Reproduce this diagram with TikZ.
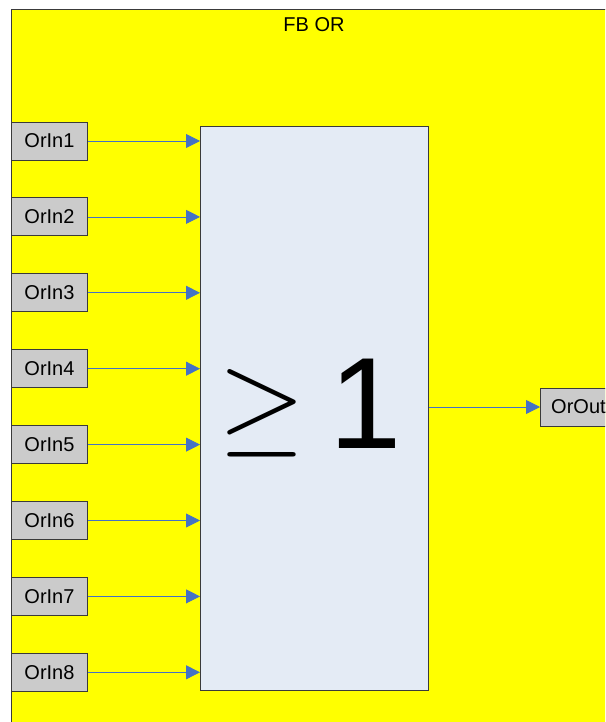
\documentclass[tikz,border=0pt]{standalone}
\usepackage{fontspec}
\setmainfont{Liberation Sans}
\usetikzlibrary{arrows.meta}
\definecolor{fbyellow}{HTML}{FFFF00}
\definecolor{blockfill}{HTML}{E4EBF5}
\definecolor{portfill}{HTML}{CBCBCB}
\definecolor{linkblue}{HTML}{4472C4}
\definecolor{edgegray}{HTML}{3A3A3A}
\tikzset{
  port/.style={draw=edgegray, line width=0.9pt, fill=portfill, minimum width=76pt, minimum height=38pt, inner sep=0pt, font=\fontsize{20}{23}\selectfont},
  link/.style={draw=linkblue, line width=0.8pt, -{Triangle[length=14pt,width=14pt]}},
}
\begin{document}
\begin{tikzpicture}[x=1pt,y=-1pt]
\useasboundingbox (0,0) rectangle (605,722);
\begin{scope}
\clip (0,0) rectangle (605,722);
\fill[white] (0,0) rectangle (605,722);
\draw[fill=fbyellow, draw=edgegray, line width=0.8pt] (11,9) rectangle (640,760);
\node[font=\fontsize{20}{23}\selectfont] (title) at (314,25) {FB OR};
\node[draw=edgegray, line width=1.3pt, fill=blockfill, minimum width=228pt, minimum height=564pt, inner sep=0pt, anchor=north west] (main) at (200,126) {};
\node[anchor=south west, inner sep=0pt] (ge) at (218,457) {\resizebox{87pt}{72pt}{$\geq$}};
\node[anchor=south west, inner sep=0pt, font=\fontsize{130}{130}\selectfont] (one) at (329,449) {1};
\foreach \i in {1,...,8} {
  \node[port, anchor=west] (in\i) at (11,{141+75.9*(\i-1)}) {OrIn\i};
  \draw[link] (in\i.east) -- (main.west |- in\i.east);
}
\node[port, anchor=west] (out) at (540,407) {OrOut};
\draw[link] (main.east |- out.west) -- (out.west);
\end{scope}
\end{tikzpicture}
\end{document}
